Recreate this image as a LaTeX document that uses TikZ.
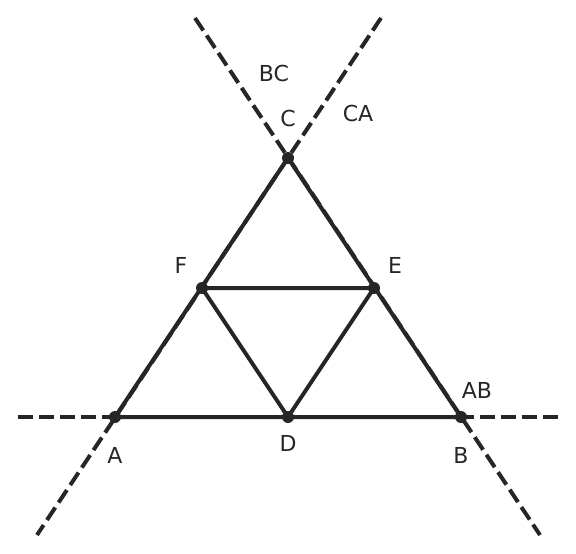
\documentclass[tikz,border=0pt]{standalone}
\usepackage{fontspec}
\setmainfont{DejaVu Sans}
\begin{document}
\begin{tikzpicture}[x=1pt,y=-1pt,
  seg/.style={line width=4pt,draw=ink},
  ext/.style={line width=4pt,draw=ink,dash pattern=on 15pt off 6pt},
  pt/.style={circle,fill=ink,inner sep=0pt,minimum size=12pt},
  lbl/.style={font=\fontsize{22}{26}\selectfont,text=ink}]
\definecolor{ink}{HTML}{262626}
\useasboundingbox (0,0) rectangle (576,554);
\coordinate (A) at (115,417);
\coordinate (B) at (461,417);
\coordinate (C) at (288,158);
\coordinate (D) at (288,417);
\coordinate (E) at (374,288);
\coordinate (F) at (202,288);
\coordinate (ABl) at (18,417);
\coordinate (ABr) at (558,417);
\coordinate (BCt) at (195,18);
\coordinate (BCb) at (540,535);
\coordinate (CAt) at (381,18);
\coordinate (CAb) at (37,535);
\draw[ext] (ABl) -- (ABr);
\draw[ext] (BCt) -- (BCb);
\draw[ext] (CAt) -- (CAb);
\draw[seg] (A) -- (B) -- (C) -- cycle;
\draw[seg] (F) -- (E) -- (D) -- cycle;
\foreach \p in {A,B,C,D,E,F} \node[pt] (n\p) at (\p) {};
\node[lbl] (lA) at (115,455) {A};
\node[lbl] (lB) at (461,455) {B};
\node[lbl] (lC) at (288,118) {C};
\node[lbl] (lD) at (288,443) {D};
\node[lbl] (lE) at (395,265) {E};
\node[lbl] (lF) at (181,265) {F};
\node[lbl] (lAB) at (477,390) {AB};
\node[lbl] (lBC) at (274,73) {BC};
\node[lbl] (lCA) at (358,113) {CA};
\end{tikzpicture}
\end{document}
